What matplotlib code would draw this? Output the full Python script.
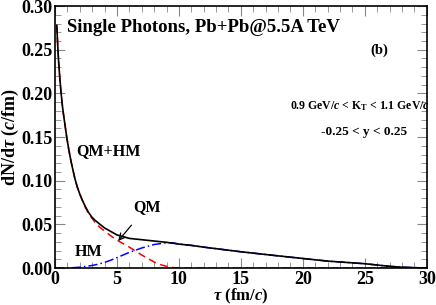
import matplotlib.pyplot as plt
from matplotlib.ticker import MultipleLocator

plt.rcParams['font.family'] = ['Liberation Serif', 'DejaVu Serif']
plt.rcParams['font.weight'] = 'bold'
plt.rcParams['mathtext.fontset'] = 'custom'
plt.rcParams['mathtext.rm'] = 'Liberation Serif:bold'
plt.rcParams['mathtext.it'] = 'Liberation Serif:italic'
plt.rcParams['mathtext.bf'] = 'Liberation Serif:bold'

# total (QM+HM)
tau_tot = [0.15, 0.2, 0.25, 0.3, 0.4, 0.5, 0.6, 0.7, 0.8, 0.95, 1.1, 1.3, 1.6, 1.8, 2.0,
           2.2, 2.4, 2.7, 3.0, 3.3, 3.6, 4.0, 4.5, 5.0, 5.5, 6.0, 7.0, 8.0, 9.0, 10.0,
           11.0, 12.0, 15.0, 18.0, 20.0, 22.0, 25.0, 27.0, 28.0, 30.0]
dn_tot = [0.278, 0.262, 0.248, 0.236, 0.216, 0.200, 0.186, 0.175, 0.165, 0.150, 0.137,
          0.122, 0.103, 0.093, 0.085, 0.078, 0.072, 0.064, 0.058, 0.054, 0.0505, 0.046,
          0.042, 0.038, 0.036, 0.034, 0.0325, 0.031, 0.0295, 0.0275, 0.026, 0.024,
          0.0187, 0.014, 0.011, 0.008, 0.005, 0.002, 0.001, 0.0]

# quark matter
tau_qm = [0.15, 0.2, 0.25, 0.3, 0.4, 0.5, 0.6, 0.7, 0.8, 0.95, 1.1, 1.3, 1.6, 1.8, 2.0,
          2.2, 2.4, 2.7, 3.0, 3.3, 3.6, 4.0, 4.5, 5.0, 5.5, 6.0, 6.5, 7.0, 7.5, 8.0, 8.5,
          9.0, 9.5, 10.0, 15.0, 20.0, 25.0, 30.0]
dn_qm = [0.278, 0.262, 0.248, 0.236, 0.216, 0.200, 0.186, 0.175, 0.165, 0.150, 0.137,
         0.122, 0.103, 0.093, 0.085, 0.078, 0.071, 0.0625, 0.057, 0.051, 0.047, 0.0425,
         0.037, 0.032, 0.028, 0.024, 0.0195, 0.015, 0.011, 0.007, 0.004, 0.002, 0.0007,
         0.0, 0.0, 0.0, 0.0, 0.0]

# hadronic matter
tau_hm = [0.0, 1.0, 2.0, 2.5, 3.0, 3.5, 4.0, 4.5, 5.0, 5.5, 6.0, 6.5, 7.0, 7.5, 8.0, 8.5,
          9.0, 9.5, 10.0, 11.0, 12.0, 15.0, 18.0, 20.0, 22.0, 25.0, 27.0, 28.0, 30.0]
dn_hm = [0.0, 0.0, 0.001, 0.002, 0.003, 0.0045, 0.0065, 0.009, 0.012, 0.015, 0.018,
         0.0205, 0.023, 0.025, 0.027, 0.028, 0.029, 0.029, 0.0275, 0.026, 0.024, 0.0187,
         0.014, 0.011, 0.008, 0.005, 0.002, 0.001, 0.0]

fig = plt.figure(figsize=(4.36, 3.05), dpi=100)
ax = fig.add_axes([0.126, 0.121, 0.853, 0.859])

ax.plot(tau_qm, dn_qm, color='red', linestyle=(0, (5, 3)), linewidth=1.1)
ax.plot(tau_hm, dn_hm, color='blue', linestyle=(0, (6, 2, 1, 2)), linewidth=1.1)
ax.plot(tau_tot, dn_tot, color='black', linewidth=1.2)

ax.set_xlim(0, 30)
ax.set_ylim(0, 0.30)
ax.xaxis.set_major_locator(MultipleLocator(5))
ax.xaxis.set_minor_locator(MultipleLocator(1))
ax.yaxis.set_major_locator(MultipleLocator(0.05))
ax.yaxis.set_minor_locator(MultipleLocator(0.01))
ax.yaxis.set_major_formatter(plt.FuncFormatter(lambda v, p: f"{v:.2f}"))
ax.tick_params(which='both', direction='in', top=True, right=True, color='#888888')
ax.tick_params(which='major', length=7, labelsize=13, pad=2)
ax.tick_params(which='minor', length=4)
for sp in ax.spines.values():
    sp.set_linewidth(1.2)
for lab in ax.get_xticklabels() + ax.get_yticklabels():
    lab.set_fontweight('bold')

ax.set_xlabel(r'$\tau$ (fm/$\mathit{c}$)', fontsize=12, fontweight='bold', labelpad=-0.5)
ax.set_ylabel(r'dN/d$\tau$ ($\mathit{c}$/fm)', fontsize=13, fontweight='bold', labelpad=0)

ax.text(1.0, 0.275, 'Single Photons, Pb+Pb@5.5A TeV', fontsize=13.5, va='center')
ax.text(26.2, 0.249, '(b)', fontsize=10.5, ha='center', va='center')
ax.text(24.6, 0.185, r'0.9 GeV/$\mathit{c}$ < K$_\mathrm{T}$ < 1.1 GeV/$\mathit{c}$',
        fontsize=8.5, ha='center', va='center')
ax.text(24.9, 0.156, '-0.25 < y < 0.25', fontsize=9.5, ha='center', va='center')
ax.text(1.75, 0.134, 'QM+HM', fontsize=11.5, va='center')
ax.text(1.6, 0.018, 'HM', fontsize=11.5, va='center')
ax.annotate('QM', xy=(5.1, 0.031), xytext=(7.4, 0.070), fontsize=11.5,
            ha='center', va='center',
            arrowprops=dict(arrowstyle='->', color='black', lw=0.9, shrinkA=7, shrinkB=0))

fig.savefig('out.png', dpi=100)
